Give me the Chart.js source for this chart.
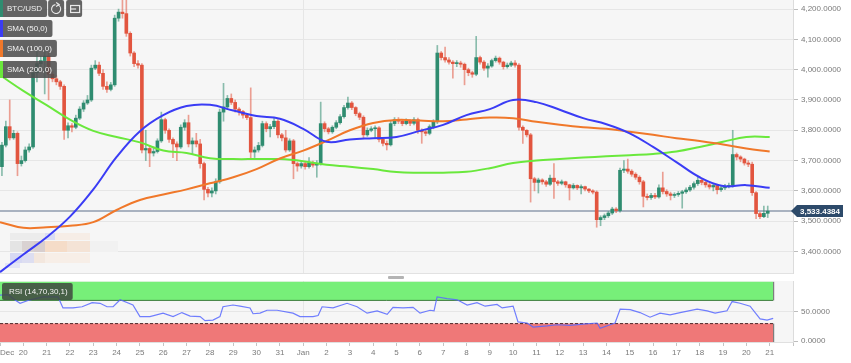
<!DOCTYPE html>
<html>
<head>
<meta charset="utf-8">
<title>BTC/USD</title>
<script src="https://cdn.jsdelivr.net/npm/chart.js@4.4.1/dist/chart.umd.min.js"></script>
<style>
  html, body { margin: 0; padding: 0; background: #fff; }
  #wrap { position: relative; width: 851px; height: 363px; overflow: hidden; }
  #priceBox { position: absolute; left: 0; top: 0; width: 851px; height: 274px; }
  #rsiBox { position: absolute; left: 0; top: 274px; width: 851px; height: 89px; }
</style>
</head>
<body>
<div id="wrap">
  <div id="priceBox"><canvas id="priceChart"></canvas></div>
  <div id="rsiBox"><canvas id="rsiChart"></canvas></div>
</div>
<script>
// 4h candles, Dec 19 -> Jan 21 (one row = one day)
const symbol = "BTC/USD";
const candlesPerDay = 6;
const firstOpen = 3680;
const closes = [
  3751,3812,3775,3790,3690,3700,
  3735,3745,3990,4020,4030,4045,
  3985,3970,3960,3945,3800,3815,
  3810,3840,3870,3890,3900,4005,
  4015,3988,3945,3935,3950,4170,
  4190,4185,4120,4055,4020,4015,
  3735,3740,3725,3730,3765,3835,
  3800,3770,3755,3745,3810,3825,
  3755,3765,3755,3690,3605,3593,
  3600,3630,3860,3877,3905,3892,
  3870,3862,3850,3842,3728,3735,
  3750,3822,3805,3812,3830,3785,
  3775,3735,3765,3690,3682,3690,
  3680,3692,3685,3690,3822,3805,
  3795,3810,3825,3845,3875,3890,
  3875,3855,3843,3785,3800,3805,
  3808,3770,3757,3752,3822,3835,
  3830,3822,3830,3823,3835,3800,
  3795,3790,3812,3828,4055,4040,
  4032,4025,4020,4022,4018,4000,
  3990,3985,4040,4025,4005,4012,
  4030,4038,4025,4010,4015,4022,
  4015,3810,3800,3785,3640,3628,
  3636,3630,3622,3642,3630,3625,
  3630,3620,3610,3618,3610,3614,
  3606,3600,3596,3505,3512,3518,
  3527,3540,3535,3668,3672,3665,
  3655,3645,3630,3582,3578,3585,
  3580,3610,3598,3590,3585,3588,
  3592,3597,3603,3612,3624,3635,
  3628,3620,3613,3618,3604,3610,
  3614,3618,3720,3712,3705,3692,
  3688,3594,3525,3515,3526,3533
];
const highs = [
  3760,3830,3900,3800,3795,3715,
  3745,3755,4000,4060,4045,4060,
  4055,3995,3980,3965,3950,3825,
  3822,3850,3878,3898,3915,4015,
  4030,4025,4000,3960,3958,4180,
  4200,4230,4230,4125,4060,4030,
  4020,3800,3750,3745,3772,3860,
  3840,3805,3775,3762,3818,3835,
  3850,3775,3790,3770,3695,3612,
  3610,3640,3870,3955,3915,3920,
  3900,3875,3866,3855,3940,3745,
  3760,3830,3828,3820,3840,3835,
  3790,3800,3772,3770,3695,3698,
  3695,3710,3698,3700,3893,3828,
  3810,3815,3832,3852,3882,3910,
  3895,3878,3860,3848,3808,3812,
  3815,3812,3775,3765,3830,3842,
  3842,3835,3838,3835,3842,3840,
  3805,3800,3818,3835,4080,4060,
  4075,4040,4030,4030,4028,4022,
  4005,3995,4110,4045,4030,4020,
  4035,4045,4042,4028,4022,4028,
  4030,4020,3815,3802,3790,3645,
  3642,3640,3635,3652,3690,3635,
  3636,3632,3622,3624,3620,3620,
  3616,3608,3604,3600,3518,3524,
  3532,3546,3545,3675,3700,3705,
  3670,3660,3650,3635,3590,3592,
  3592,3620,3662,3604,3596,3594,
  3598,3602,3610,3618,3630,3645,
  3640,3632,3625,3624,3622,3616,
  3622,3626,3800,3725,3716,3708,
  3700,3695,3598,3530,3550,3550
];
const lows = [
  3650,3745,3768,3770,3650,3682,
  3695,3728,3740,3960,4005,3920,
  3900,3960,3950,3935,3770,3775,
  3795,3805,3835,3862,3885,3895,
  4000,3980,3935,3925,3930,3945,
  4160,4170,4110,4045,4010,4005,
  3725,3700,3680,3715,3725,3760,
  3790,3760,3710,3700,3740,3800,
  3745,3720,3745,3675,3570,3580,
  3580,3590,3625,3830,3870,3885,
  3860,3850,3840,3835,3708,3710,
  3728,3745,3795,3778,3805,3775,
  3765,3728,3730,3640,3665,3675,
  3672,3675,3678,3645,3685,3795,
  3788,3790,3805,3820,3840,3870,
  3868,3848,3835,3775,3780,3795,
  3775,3762,3748,3735,3748,3815,
  3822,3815,3818,3815,3818,3790,
  3757,3782,3785,3805,3822,4032,
  4025,4018,3972,4010,4008,3950,
  3980,3975,3980,4018,3998,3975,
  4008,4025,4018,4002,4005,4010,
  4008,3800,3757,3778,3563,3600,
  3593,3622,3615,3618,3575,3618,
  3620,3612,3570,3606,3604,3590,
  3600,3594,3590,3480,3485,3505,
  3512,3522,3528,3530,3660,3658,
  3648,3638,3622,3547,3570,3572,
  3574,3576,3590,3582,3570,3578,
  3582,3543,3592,3598,3606,3618,
  3620,3612,3606,3600,3590,3598,
  3604,3610,3612,3702,3696,3685,
  3680,3585,3508,3508,3512,3512
];
const lastPrice = 3533.4384;
const priceTicks = [3400, 3500, 3600, 3700, 3800, 3900, 4000, 4100, 4200];

// moving averages, one reading per day
const smaDays = [0,1,2,3,4,5,6,7,8,9,10,11,12,13,14,15,16,17,18,19,20,21,22,23,24,25,26,27,28,29,30,31,32,33];
const sma50 = [3332,3390,3447,3515,3605,3712,3797,3850,3880,3884,3865,3847,3838,3805,3762,3770,3774,3778,3798,3818,3850,3870,3900,3893,3868,3840,3820,3790,3745,3695,3645,3616,3619,3610];
const sma100 = [3497,3478,3480,3485,3497,3537,3570,3588,3605,3625,3645,3672,3707,3733,3765,3800,3824,3834,3832,3830,3836,3842,3840,3828,3818,3810,3805,3795,3785,3774,3765,3753,3740,3730];
const sma200 = [3982,3930,3883,3835,3798,3778,3760,3733,3725,3708,3705,3705,3705,3698,3686,3680,3672,3662,3660,3660,3663,3675,3692,3700,3705,3710,3714,3718,3722,3730,3745,3762,3778,3778];

// RSI (14)
const rsiDays = [0,0.34,0.6,0.86,1.29,1.84,2.49,2.7,3.13,3.52,3.95,4.29,4.59,4.85,5.15,5.7,6.0,6.43,6.99,7.42,7.8,8.15,8.58,8.79,9.13,9.43,9.56,9.99,10.29,10.72,10.85,11.15,11.45,11.88,12.44,12.56,12.86,13.42,13.64,13.81,14.28,14.88,15.31,15.74,16.17,16.6,16.85,17.28,17.71,18.01,18.44,18.61,18.74,19.17,19.6,20.03,20.45,20.8,21.31,21.53,22.0,22.21,22.6,22.86,23.46,23.89,24.44,25.0,25.6,25.73,26.16,26.37,26.59,27.02,27.44,27.87,28.3,28.73,29.16,29.89,30.32,30.66,31.17,31.39,31.73,32.16,32.59,32.89,33.15];
const rsiValues = [79,80,72,65,71,76,76,57,57,59,66,65,59,59,71,62,42,42,48,42,49,43,42,35,36,42,59,62,60,57,47,48,53,53,49,48,42,42,44,59,57,65,59,48,52,46,58,57,58,48,53,52,76,73,71,62,66,60,63,57,60,33,31,24,26,28,27,29,31,22,28,31,55,54,49,41,48,45,49,55,52,48,52,68,65,60,38,36,39];
const rsiUpper = 70;
const rsiLower = 30;
const rsiTicks = [0, 50];

const dayLabels = ["Dec","20","21","22","23","24","25","26","27","28","29","30","31",
  "Jan","2","3","4","5","6","7","8","9","10","11","12","13","14","15","16","17","18","19","20","21"];

const UP = "#2f8c70";
const DOWN = "#e2553f";
const UP_WICK = "rgba(47,140,112,0.55)";
const DOWN_WICK = "rgba(226,85,63,0.55)";
const FONT = '"Liberation Sans", Arial, sans-serif';
const xMax = 34;

const opens = closes.map((c, i) => i === 0 ? firstOpen : closes[i - 1]);
const candleX = closes.map((c, i) => (i + 0.5) / candlesPerDay);
const isUp = closes.map((c, i) => c >= opens[i]);

const fmt4 = v => Number(v).toLocaleString("en-US", { minimumFractionDigits: 4, maximumFractionDigits: 4 });
const toPoints = (xs, ys) => xs.map((x, i) => ({ x: x, y: ys[i] }));

// fill the plot area
const panelBg = {
  id: "panelBg",
  beforeDraw(chart, args, opts) {
    const { ctx, chartArea: a } = chart;
    ctx.save();
    ctx.fillStyle = opts.color || "#f6f6f6";
    ctx.fillRect(a.left, a.top, a.right - a.left, a.bottom - a.top);
    ctx.restore();
  }
};

// faint pixelated watermark in the lower left
const watermark = {
  id: "watermark",
  beforeDatasetsDraw(chart) {
    const ctx = chart.ctx;
    const blocks = [
      [10, 233, 35, 7, "#ececec"], [45, 233, 10, 7, "#dadcf4"], [55, 233, 35, 7, "#f6ede6"],
      [10, 241, 12, 11, "#e4e4e4"], [22, 241, 12, 11, "#d9d2d2"], [34, 241, 11, 11, "#d8cece"],
      [45, 241, 22, 11, "#f5dcc8"], [67, 241, 23, 11, "#f4e3d6"], [90, 241, 28, 11, "#f1f1f1"],
      [10, 253, 12, 10, "#d7d9f3"], [22, 253, 12, 10, "#dddef1"], [34, 253, 11, 10, "#f3e7de"],
      [45, 253, 45, 10, "#f7eee7"], [5, 263, 15, 5, "#e4e6f6"]
    ];
    ctx.save();
    blocks.forEach(b => { ctx.fillStyle = b[4]; ctx.fillRect(b[0], b[1], b[2], b[3]); });
    ctx.restore();
  }
};

function labelBox(ctx, x, y, text, barColor, fill) {
  const w = ctx.measureText(text).width + 12;
  ctx.fillStyle = fill;
  ctx.beginPath();
  ctx.roundRect(x, y, w, 17, 2);
  ctx.fill();
  if (barColor) {
    ctx.fillStyle = barColor;
    ctx.fillRect(x, y, 3, 17);
  }
  ctx.fillStyle = "#f2f2f2";
  ctx.fillText(text, x + 7, y + 9);
  return w;
}

// symbol + indicator tags and last-price tag
const overlays = {
  id: "overlays",
  afterDraw(chart) {
    const { ctx, chartArea: a } = chart;
    const ds = chart.data.datasets;
    ctx.save();
    ctx.font = "8px " + FONT;
    ctx.textBaseline = "middle";
    const fill = "rgba(78,78,78,0.88)";
    const w = labelBox(ctx, 0, 0, symbol, UP, fill);
    // two tool buttons
    ctx.fillStyle = fill;
    ctx.beginPath(); ctx.roundRect(w + 1, 0, 16, 17, 2); ctx.fill();
    ctx.beginPath(); ctx.roundRect(w + 19, 0, 16, 17, 2); ctx.fill();
    ctx.strokeStyle = "#e8e8e8";
    ctx.lineWidth = 1.2;
    ctx.beginPath(); ctx.arc(w + 9, 9, 4.5, -0.4 * Math.PI, 1.45 * Math.PI); ctx.stroke();
    ctx.beginPath(); ctx.moveTo(w + 9, 2.5); ctx.lineTo(w + 12, 4.5); ctx.lineTo(w + 9, 6.5); ctx.stroke();
    ctx.strokeRect(w + 23.5, 5.5, 9, 7);
    ctx.beginPath(); ctx.moveTo(w + 23.5, 9); ctx.lineTo(w + 29, 9); ctx.stroke();

    const tags = [[20, 0], [40, 1], [61, 2]];
    tags.forEach(([y, i]) => labelBox(ctx, 0, y, ds[i].label, ds[i].borderColor, fill));

    // last price tag on the axis
    const py = Math.round(chart.scales.y.getPixelForValue(lastPrice));
    ctx.fillStyle = "#2d4a6a";
    ctx.beginPath();
    ctx.moveTo(a.right - 2, py);
    ctx.lineTo(a.right + 4, py - 6);
    ctx.lineTo(a.right + 50, py - 6);
    ctx.lineTo(a.right + 50, py + 6);
    ctx.lineTo(a.right + 4, py + 6);
    ctx.closePath();
    ctx.fill();
    ctx.fillStyle = "#ffffff";
    ctx.font = "bold 8px " + FONT;
    ctx.textAlign = "center";
    ctx.fillText(fmt4(lastPrice), a.right + 27, py + 0.5);

    // bottom edge of the price panel
    ctx.strokeStyle = "#e2e2e2";
    ctx.lineWidth = 1;
    ctx.beginPath(); ctx.moveTo(0, a.bottom + 0.5); ctx.lineTo(a.right, a.bottom + 0.5); ctx.stroke();
    ctx.restore();
  }
};

const rsiOverlay = {
  id: "rsiOverlay",
  afterDraw(chart) {
    const { ctx, chartArea: a } = chart;
    ctx.save();
    ctx.font = "8px " + FONT;
    ctx.textBaseline = "middle";
    labelBox(ctx, 2, a.top + 2, "RSI (14,70,30,1)", null, "rgba(62,70,62,0.85)");
    // right edges of the bands
    const xr = chart.scales.x.getPixelForValue(rsiDays[rsiDays.length - 1]);
    ctx.strokeStyle = "rgba(40,40,40,0.7)";
    ctx.beginPath();
    ctx.moveTo(xr + 0.5, chart.scales.y.getPixelForValue(102));
    ctx.lineTo(xr + 0.5, chart.scales.y.getPixelForValue(rsiUpper));
    ctx.moveTo(xr + 0.5, chart.scales.y.getPixelForValue(rsiLower));
    ctx.lineTo(xr + 0.5, a.bottom);
    ctx.stroke();
    // scroll handle
    ctx.fillStyle = "#b4b4b4";
    ctx.beginPath(); ctx.roundRect(388, 2, 16, 3, 1); ctx.fill();
    ctx.restore();
  }
};

const xGridColor = c => (c.tick && c.tick.value === 13) ? "#e6e6e6" : "rgba(0,0,0,0)";
const noPad = s => { s.paddingLeft = 0; s.paddingRight = 0; s.paddingTop = 0; s.paddingBottom = 0; };

new Chart(document.getElementById("priceChart"), {
  type: "bar",
  data: {
    datasets: [
      { type: "line", label: "SMA (50,0)", data: toPoints(smaDays, sma50), borderColor: "#3a3cf5", borderWidth: 2, pointRadius: 0, tension: 0.4, clip: 0, order: 0 },
      { type: "line", label: "SMA (100,0)", data: toPoints(smaDays, sma100), borderColor: "#f0782a", borderWidth: 2, pointRadius: 0, tension: 0.4, clip: 0, order: 0 },
      { type: "line", label: "SMA (200,0)", data: toPoints(smaDays, sma200), borderColor: "#6ae83c", borderWidth: 2, pointRadius: 0, tension: 0.4, clip: 0, order: 0 },
      { label: "body", data: closes.map((c, i) => ({ x: candleX[i], y: [opens[i], c] })),
        backgroundColor: isUp.map(u => u ? UP : DOWN), barThickness: 3, minBarLength: 1, grouped: false, clip: 0, order: 1 },
      { label: "wick", data: closes.map((c, i) => ({ x: candleX[i], y: [lows[i], highs[i]] })),
        backgroundColor: isUp.map(u => u ? UP_WICK : DOWN_WICK), barThickness: 1, grouped: false, clip: 0, order: 2 },
      { type: "line", label: "last", data: [{ x: 0, y: lastPrice }, { x: xMax, y: lastPrice }],
        borderColor: "#a9b2c0", borderWidth: 2, pointRadius: 0, clip: 0, order: 3 }
    ]
  },
  options: {
    responsive: true,
    maintainAspectRatio: false,
    animation: false,
    devicePixelRatio: 1,
    layout: { padding: { top: 0, left: 0, right: 0, bottom: 1 } },
    plugins: { legend: { display: false }, tooltip: { enabled: false }, panelBg: { color: "#f6f6f6" } },
    scales: {
      x: {
        type: "linear", min: 0, max: xMax, offset: false,
        ticks: { display: false, stepSize: 1 },
        grid: { color: xGridColor, drawTicks: false, offset: false },
        border: { display: false },
        afterFit: s => { s.height = 0; noPad(s); }
      },
      y: {
        position: "right", min: 3329, max: 4230,
        afterBuildTicks: s => { s.ticks = priceTicks.map(v => ({ value: v })); },
        ticks: { callback: v => fmt4(v), color: "#7a7a7a", font: { family: FONT, size: 8 }, padding: 3 },
        grid: { color: "#e6e6e6", tickLength: 5, tickColor: "#bdbdbd" },
        border: { display: true, color: "#dcdcdc" },
        afterFit: s => { s.width = 58; noPad(s); }
      }
    }
  },
  plugins: [panelBg, watermark, overlays]
});

const rsiFirst = rsiDays[0];
const rsiLast = rsiDays[rsiDays.length - 1];

new Chart(document.getElementById("rsiChart"), {
  type: "line",
  data: {
    datasets: [
      { label: "RSI", data: toPoints(rsiDays, rsiValues), borderColor: "rgba(88,104,255,0.85)", borderWidth: 1.2, pointRadius: 0, tension: 0, clip: 0, order: 0 },
      { label: "overbought", data: [{ x: rsiFirst, y: rsiUpper }, { x: rsiLast, y: rsiUpper }],
        borderColor: "#3d7a3d", borderWidth: 1, pointRadius: 0, fill: { value: 102 }, backgroundColor: "#77ef79", clip: 0, order: 1 },
      { label: "oversold", data: [{ x: rsiFirst, y: rsiLower }, { x: rsiLast, y: rsiLower }],
        borderColor: "#4a2a2a", borderWidth: 1, borderDash: [3, 2], pointRadius: 0, fill: "start", backgroundColor: "#ef7878", clip: 0, order: 1 }
    ]
  },
  options: {
    responsive: true,
    maintainAspectRatio: false,
    animation: false,
    devicePixelRatio: 1,
    layout: { padding: { top: 7, left: 0, right: 0, bottom: 0 } },
    plugins: { legend: { display: false }, tooltip: { enabled: false }, panelBg: { color: "#f6f6f6" } },
    scales: {
      x: {
        type: "linear", min: 0, max: xMax,
        afterBuildTicks: s => { s.ticks = dayLabels.map((l, i) => ({ value: i })).concat([{ value: xMax }]); },
        ticks: { callback: (v, i) => dayLabels[i] || "", color: "#7a7a7a", font: { family: FONT, size: 8 }, align: "inner", maxRotation: 0, autoSkip: false, padding: 2 },
        grid: { color: xGridColor, tickLength: 4, tickColor: "#c4c4c4" },
        border: { display: true, color: "#e0e0e0" },
        afterFit: s => { s.height = 21; noPad(s); }
      },
      y: {
        position: "right", min: -1.7, max: 103.4,
        afterBuildTicks: s => { s.ticks = rsiTicks.map(v => ({ value: v })); },
        ticks: { callback: v => fmt4(v), color: "#7a7a7a", font: { family: FONT, size: 8 }, padding: 3 },
        grid: { color: c => c.tick && c.tick.value === 50 ? "#e6e6e6" : "rgba(0,0,0,0)", tickLength: 5, tickColor: "#bdbdbd" },
        border: { display: true, color: "#dcdcdc" },
        afterFit: s => { s.width = 58; noPad(s); }
      }
    }
  },
  plugins: [panelBg, rsiOverlay]
});
</script>
</body>
</html>
